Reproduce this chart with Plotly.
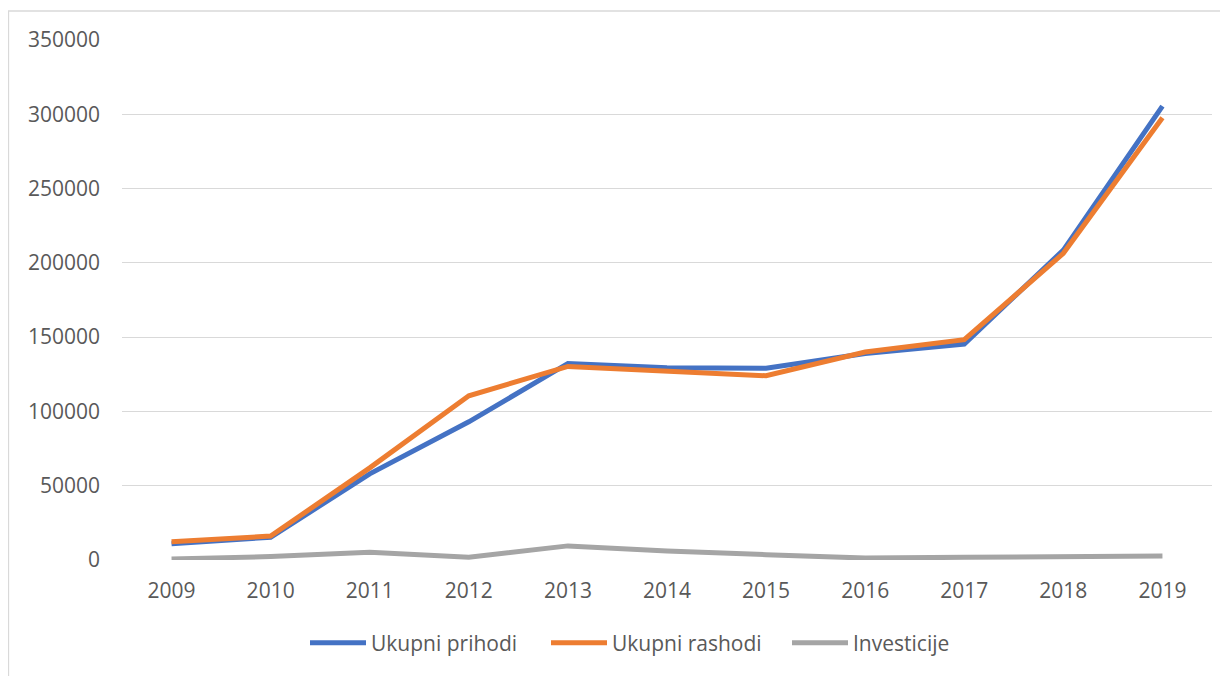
import plotly.graph_objects as go

years = ["2009", "2010", "2011", "2012", "2013", "2014", "2015", "2016", "2017", "2018", "2019"]
prihodi = [11000, 15300, 58000, 93000, 132300, 129400, 129000, 139000, 145400, 208600, 305500]
rashodi = [12300, 16100, 62000, 110500, 130300, 127400, 124000, 140000, 148300, 206400, 297600]
investicije = [700, 2300, 5200, 1800, 9500, 6000, 3600, 1300, 1800, 2000, 2700]

series_names = ["Ukupni prihodi", "Ukupni rashodi", "Investicije"]
colors = ["#4472C4", "#ED7D31", "#A5A5A5"]

W, H = 1228, 676
OFF = 8  # page body margin
L, R, T, B = 122 - OFF, 16 + OFF, 40 - OFF, 116 + OFF
pw, ph = W - L - R, H - T - B

fig = go.Figure()
for name, vals, c in zip(series_names, [prihodi, rashodi, investicije], colors):
    fig.add_trace(go.Scatter(x=years, y=vals, name=name, mode="lines",
                             line=dict(color=c, width=5)))

font = dict(family="Open Sans", size=21, color="#595959")

def px_x(p):
    # p is page pixel
    return (p - OFF - L) / pw

def px_y(p):
    return (H - B - (p - OFF)) / ph

fig.update_layout(
    width=W, height=H,
    margin=dict(l=L, r=R, t=T, b=B),
    paper_bgcolor="white", plot_bgcolor="white",
    font=font,
    showlegend=True,
    legend=dict(orientation="h", x=px_x(305), y=px_y(643), xanchor="left", yanchor="middle",
                font=font, itemwidth=56, entrywidth=170, entrywidthmode="pixels",
                bgcolor="rgba(0,0,0,0)"),
    xaxis=dict(type="category", showgrid=False, showline=False, zeroline=False,
               ticks="", tickfont=font, ticklabelstandoff=16, range=[-0.5, 10.5]),
    yaxis=dict(range=[0, 350000], dtick=50000, tickformat="d", showgrid=True,
               gridcolor="#D9D9D9", gridwidth=1.3, zeroline=False, showline=False,
               ticks="", tickfont=font, ticklabelstandoff=21),
    shapes=[dict(type="rect", xref="paper", yref="paper",
                 x0=px_x(8.5), x1=px_x(1260), y0=px_y(700), y1=px_y(11),
                 line=dict(color="#D9D9D9", width=1.3), fillcolor="rgba(0,0,0,0)", layer="below")],
)

fig.write_html("out.html")
